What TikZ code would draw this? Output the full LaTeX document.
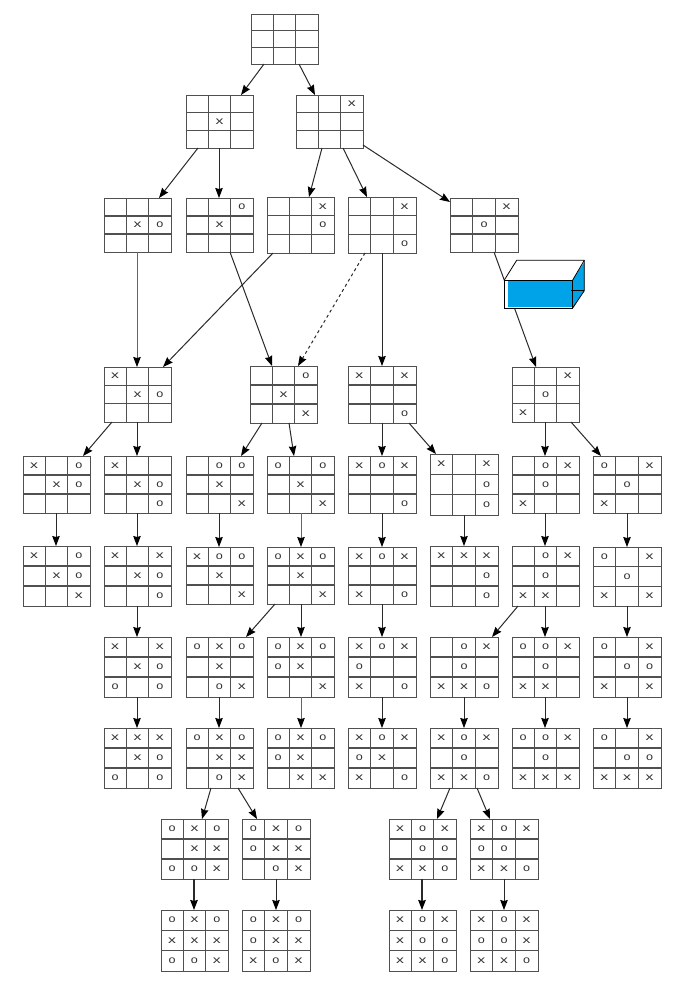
\documentclass[tikz,border=0pt]{standalone}
\usepackage{graphicx}
\usepackage{fontspec}
\setmainfont{Liberation Sans}
\usetikzlibrary{arrows.meta,calc}
\definecolor{boardline}{HTML}{505050}
\definecolor{linkline}{HTML}{2A2A2A}
\definecolor{boxblue}{HTML}{00A2E8}
\tikzset{
  boardbox/.style={draw=boardline,line width=1pt,inner sep=0pt,outer sep=0pt,fill=white},
  gridline/.style={draw=boardline,line width=1.1pt},
  boardmark/.style={inner sep=0pt,outer sep=0pt,text=black!80,font=\fontsize{10.5pt}{10.5pt}\selectfont},
  conn/.style={draw=linkline,line width=1pt,-{Stealth[length=10pt,width=7.5pt,inset=1pt,color=black]}},
  heavy/.style={line width=1.6pt},
  pale/.style={draw=black!60},
  boxline/.style={draw=black,line width=0.8pt}
}
% name, x0, y0, x1, y1, nine cells
\newcommand\board[6]{%
  \node[boardbox,minimum width={(#4-#2)*1pt},minimum height={(#5-#3)*1pt}] (#1) at ({(#2+#4)/2},{(#3+#5)/2}) {};
  \draw[gridline] ($(#1.north west)!1/3!(#1.north east)$) -- ($(#1.south west)!1/3!(#1.south east)$)
    ($(#1.north west)!2/3!(#1.north east)$) -- ($(#1.south west)!2/3!(#1.south east)$)
    ($(#1.north west)!1/3!(#1.south west)$) -- ($(#1.north east)!1/3!(#1.south east)$)
    ($(#1.north west)!2/3!(#1.south west)$) -- ($(#1.north east)!2/3!(#1.south east)$);
  \foreach \m [count=\i from 0] in {#6} {%
    \if\m-\else
      \pgfmathsetmacro{\cx}{#2+(mod(\i,3)+.5)*(#4-#2)/3}%
      \pgfmathsetmacro{\cy}{#3+(floor(\i/3)+.5)*(#5-#3)/3}%
      \node[boardmark] (#1-\i) at (\cx,\cy) {\if\m x\scalebox{1.5}[1]{x}\else\scalebox{1.2}[1]{o}\fi};
    \fi
  }%
}
% source, x at source, target, x at target
\newcommand\link[5][]{\draw[conn,#1] (#3,0 |- #2.south) -- (#5,0 |- #4.north);}
\begin{document}
\begin{tikzpicture}[x=1pt,y=-1pt]
\useasboundingbox (0,0) rectangle (685,999);
\fill[white] (0,0) rectangle (685,999);
% level 0-2
\board{root}{251}{14}{318}{64}{-,-,-,-,-,-,-,-,-}
\board{ua}{186}{95}{253}{148}{-,-,-,-,x,-,-,-,-}
\board{ub}{296}{95}{363}{148}{-,-,x,-,-,-,-,-,-}
\board{va}{104}{198}{171}{252}{-,-,-,-,x,o,-,-,-}
\board{vb}{186}{198}{253}{252}{-,-,o,-,x,-,-,-,-}
\board{vc}{267}{197}{334}{253}{-,-,x,-,-,o,-,-,-}
\board{vd}{348}{197}{416}{253}{-,-,x,-,-,-,-,-,o}
\board{ve}{450}{198}{518}{252}{-,-,x,-,o,-,-,-,-}
% level 3
\board{wa}{104}{367}{171}{422}{x,-,-,-,x,o,-,-,-}
\board{wb}{250}{366}{317}{423}{-,-,o,-,x,-,-,-,x}
\board{wc}{348}{366}{416}{423}{x,-,x,-,-,-,-,-,o}
\board{wd}{512}{367}{579}{422}{-,-,x,-,o,-,x,-,-}
% level 4
\board{pa}{23}{456}{90}{513}{x,-,o,-,x,o,-,-,-}
\board{pb}{104}{456}{171}{513}{x,-,-,-,x,o,-,-,o}
\board{pc}{186}{456}{253}{513}{-,o,o,-,x,-,-,-,x}
\board{pd}{267}{456}{334}{513}{o,-,o,-,x,-,-,-,x}
\board{pe}{348}{456}{416}{513}{x,o,x,-,-,-,-,-,o}
\board{pf}{430}{454}{498}{515}{x,-,x,-,-,o,-,-,o}
\board{pg}{512}{456}{579}{513}{-,o,x,-,o,-,x,-,-}
\board{ph}{593}{456}{661}{513}{o,-,x,-,o,-,x,-,-}
% level 5
\board{qa}{23}{546}{90}{606}{x,-,o,-,x,o,-,-,x}
\board{qb}{104}{546}{171}{606}{x,-,x,-,x,o,-,-,o}
\board{qc}{186}{547}{253}{604}{x,o,o,-,x,-,-,-,x}
\board{qd}{267}{547}{334}{604}{o,x,o,-,x,-,-,-,x}
\board{qe}{348}{547}{416}{604}{x,o,x,-,-,-,x,-,o}
\board{qf}{430}{546}{498}{606}{x,x,x,-,-,o,-,-,o}
\board{qg}{512}{546}{579}{606}{-,o,x,-,o,-,x,x,-}
\board{qh}{593}{547}{661}{606}{o,-,x,-,o,-,x,-,x}
% level 6
\board{ra}{104}{637}{171}{697}{x,-,x,-,x,o,o,-,o}
\board{rb}{186}{637}{253}{697}{o,x,o,-,x,-,-,o,x}
\board{rc}{267}{637}{334}{697}{o,x,o,o,x,-,-,-,x}
\board{rd}{348}{637}{416}{697}{x,o,x,o,-,-,x,-,o}
\board{re}{430}{637}{498}{697}{-,o,x,-,o,-,x,x,o}
\board{rf}{512}{637}{579}{697}{o,o,x,-,o,-,x,x,-}
\board{rg}{593}{637}{661}{697}{o,-,x,-,o,o,x,-,x}
% level 7
\board{sa}{104}{728}{171}{788}{x,x,x,-,x,o,o,-,o}
\board{sb}{186}{728}{253}{788}{o,x,o,-,x,x,-,o,x}
\board{sc}{267}{728}{334}{788}{o,x,o,o,x,-,-,x,x}
\board{sd}{348}{728}{416}{788}{x,o,x,o,x,-,x,-,o}
\board{se}{430}{728}{498}{788}{x,o,x,-,o,-,x,x,o}
\board{sf}{512}{728}{579}{788}{o,o,x,-,o,-,x,x,x}
\board{sg}{593}{728}{661}{788}{o,-,x,-,o,o,x,x,x}
% level 8
\board{ta}{161}{819}{228}{879}{o,x,o,-,x,x,o,o,x}
\board{tb}{242}{819}{310}{879}{o,x,o,o,x,x,-,o,x}
\board{tc}{389}{819}{456}{879}{x,o,x,-,o,o,x,x,o}
\board{td}{470}{819}{538}{879}{x,o,x,o,o,-,x,x,o}
% level 9
\board{za}{161}{910}{228}{971}{o,x,o,x,x,x,o,o,x}
\board{zb}{242}{910}{310}{971}{o,x,o,o,x,x,x,o,x}
\board{zc}{389}{910}{456}{971}{x,o,x,x,o,o,x,x,o}
\board{zd}{470}{910}{538}{971}{x,o,x,o,o,x,x,x,o}
% connectors
\link{root}{264}{ua}{241}
\link{root}{299}{ub}{315}
\link{ua}{198}{va}{159}
\link{ua}{219}{vb}{219}
\link{ub}{322}{vc}{309}
\link{ub}{343}{vd}{367}
\draw[conn] ($(ub.south east)+(0,-3)$) -- (ve.west |- 0,202);
\link[pale]{va}{137}{wa}{137}
\link{vb}{230}{wb}{272}
\link{vc}{273}{wa}{163}
\link[dashed]{vd}{365}{wb}{298}
\link{vd}{382}{wc}{382}
\link{ve}{494}{wd}{536}
\link{wa}{112}{pa}{83}
\link{wa}{137}{pb}{137}
\link{wb}{262}{pc}{241}
\link{wb}{289}{pd}{294}
\link{wc}{382}{pe}{382}
\link{wc}{409}{pf}{436}
\link{wd}{545}{pg}{545}
\link{wd}{571}{ph}{601}
\link{pa}{56}{qa}{56}
\link{pb}{137}{qb}{137}
\link{pc}{219}{qc}{219}
\link[pale]{pd}{301}{qd}{301}
\link{pe}{382}{qe}{382}
\link{pf}{464}{qf}{464}
\link{pg}{545}{qg}{545}
\link{ph}{627}{qh}{627}
\link{qb}{137}{ra}{137}
\link{qd}{275}{rb}{246}
\link{qd}{301}{rc}{301}
\link{qe}{382}{rd}{382}
\link{qg}{518}{re}{492}
\link{qg}{545}{rf}{545}
\link{qh}{627}{rg}{627}
\link{ra}{137}{sa}{137}
\link{rb}{219}{sb}{219}
\link[pale]{rc}{301}{sc}{301}
\link{rd}{382}{sd}{382}
\link{re}{464}{se}{464}
\link{rf}{545}{sf}{545}
\link{rg}{627}{sg}{627}
\link{sb}{211}{ta}{202}
\link{sb}{238}{tb}{257}
\link{se}{450}{tc}{437}
\link{se}{477}{td}{490}
\link[heavy]{ta}{194}{za}{194}
\link{tb}{276}{zb}{276}
\link[heavy]{tc}{422}{zc}{422}
\link{td}{504}{zd}{504}
% the blue box
\fill[white] (504.3,280) -- (516.7,260.3) -- (584.3,260.3) -- (584.3,290.7) -- (572.7,308) -- (504.3,308) -- cycle;
\fill[boxblue] (508,280) rectangle (572.7,306.7);
\fill[boxblue] (572.7,280) -- (584.3,262) -- (584.3,290.7) -- (572.7,308) -- cycle;
\draw[boxline] (504.3,280) rectangle (572.7,308);
\draw[boxline] (504.3,280) -- (516.7,260.3) -- (584.3,260.3) -- (584.3,290.7) -- (572.7,308);
\draw[boxline] (572.7,280) -- (584.3,260.3);
\draw[boxline] (571,290.7) -- (584.3,290.7);
\end{tikzpicture}
\end{document}
